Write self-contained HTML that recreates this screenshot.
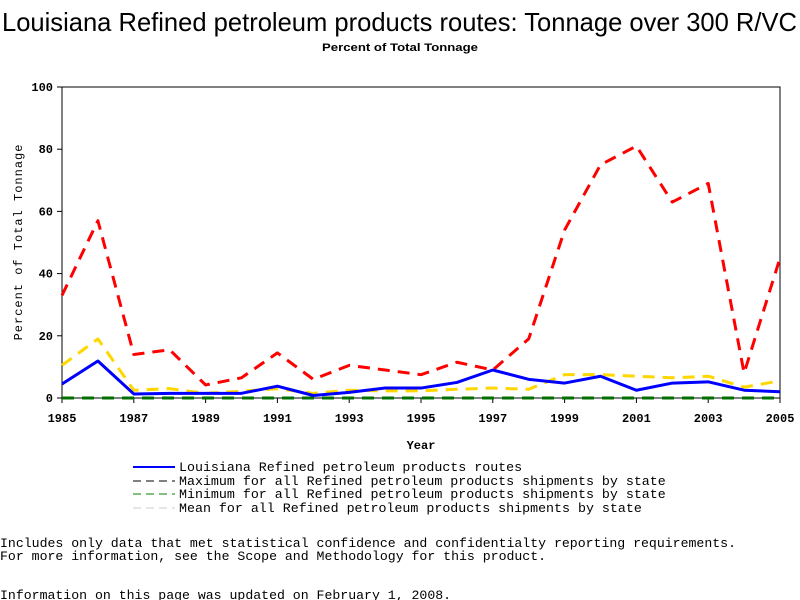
<!DOCTYPE html>
<html><head><meta charset="utf-8"><style>
body{margin:0;background:#fff;width:800px;height:600px;overflow:hidden}
svg{display:block}
</style></head><body>
<svg id="chart" width="800" height="600" xmlns="http://www.w3.org/2000/svg">
<text x="2" y="31" font-family="Liberation Sans, sans-serif" font-size="26" textLength="795" lengthAdjust="spacingAndGlyphs">Louisiana Refined petroleum products routes: Tonnage over 300 R/VC</text>
<text x="322" y="51" font-family="Liberation Sans, sans-serif" font-size="11" font-weight="bold" textLength="156" lengthAdjust="spacingAndGlyphs">Percent of Total Tonnage</text>
<rect x="62" y="87" width="718" height="311" fill="none" stroke="#000" stroke-width="1"/>
<g id="axes"></g>
<g id="series"></g>
<text x="421" y="449" text-anchor="middle" font-family="Liberation Mono, monospace" font-size="12" font-weight="bold">Year</text>
<text transform="translate(22,242) rotate(-90)" text-anchor="middle" font-family="Liberation Mono, monospace" font-size="12" letter-spacing="1">Percent of Total Tonnage</text>
<g font-family="Liberation Mono, monospace" font-size="13.3">
<line x1="133" y1="467" x2="175" y2="467" stroke="#0000ff" stroke-width="2"/>
<text x="179" y="471">Louisiana Refined petroleum products routes</text>
<line x1="133" y1="481" x2="175" y2="481" stroke="#000" stroke-width="1" stroke-dasharray="8,5"/>
<text x="179" y="485">Maximum for all Refined petroleum products shipments by state</text>
<line x1="133" y1="494" x2="175" y2="494" stroke="#008000" stroke-width="1" stroke-dasharray="8,5"/>
<text x="179" y="498">Minimum for all Refined petroleum products shipments by state</text>
<line x1="133" y1="508" x2="175" y2="508" stroke="#ccc" stroke-width="1" stroke-dasharray="8,5"/>
<text x="179" y="512">Mean for all Refined petroleum products shipments by state</text>
</g>
<g font-family="Liberation Mono, monospace" font-size="13.2">
<text x="0" y="547">Includes only data that met statistical confidence and confidentialty reporting requirements.</text>
<text x="0" y="560">For more information, see the Scope and Methodology for this product.</text>
<text x="0" y="599">Information on this page was updated on February 1, 2008.</text>
</g>
</svg>
<script>
const years=[1985,1986,1987,1988,1989,1990,1991,1992,1993,1994,1995,1996,1997,1998,1999,2000,2001,2002,2003,2004,2005];
const louisiana=[4.5,11.9,1.3,1.5,1.5,1.5,3.8,0.8,1.8,3.2,3.2,5,9,6,4.8,7,2.5,4.8,5.2,2.5,2];
const maxVals=[33,57,14,15.5,4.2,6.5,14.5,6,10.5,9,7.5,11.5,9,19,54,75,81,63,69,8,45];
const minVals=[0,0,0,0,0,0,0,0,0,0,0,0,0,0,0,0,0,0,0,0,0];
const meanVals=[10.5,19,2.5,3,1.5,2.2,3,1.5,2.5,2.3,2.3,2.8,3.2,2.8,7.5,7.5,7,6.5,7,3.5,5.5];
const yTicks=[0,20,40,60,80,100];
const xTicks=[1985,1987,1989,1991,1993,1995,1997,1999,2001,2003,2005];
const NS='http://www.w3.org/2000/svg';
const X=v=>62+(v-1985)*(718/20);
const Y=v=>398-v*3.11;
const axes=document.getElementById('axes'),ser=document.getElementById('series');
function mk(t,a,p){const e=document.createElementNS(NS,t);for(const k in a)e.setAttribute(k,a[k]);p.appendChild(e);return e;}
yTicks.forEach(v=>{
 const l=mk('line',{x1:57,x2:62,y1:Y(v),y2:Y(v),stroke:'#000'},axes);
 
 
 const t=mk('text',{x:53,y:Y(v)+4,'text-anchor':'end','font-family':'Liberation Mono, monospace','font-size':'12','font-weight':'bold'},axes);
 t.textContent=v;
 
 
});
xTicks.forEach(v=>{
 const l=mk('line',{x1:X(v),x2:X(v),y1:398,y2:403,stroke:'#000'},axes);
 
 
 const t=mk('text',{x:X(v),y:422,'text-anchor':'middle','font-family':'Liberation Mono, monospace','font-size':'12','font-weight':'bold'},axes);
 t.textContent=v;
 
 
});
function line(vals,color,w,dash,name){
 const p=mk('polyline',{points:vals.map((v,i)=>X(years[i])+','+Y(v)).join(' '),fill:'none',stroke:color,'stroke-width':w,'stroke-dasharray':dash,'stroke-linejoin':'round'},ser);
 
 
}
line(minVals,'#007000',3,'12,8','min-line');
line(meanVals,'#ffd700',3,'12,8','mean-line');
line(maxVals,'#ff0000',3,'12,8','max-line');
line(louisiana,'#0000ff',3,'none','louisiana-line');
</script>
</body></html>
